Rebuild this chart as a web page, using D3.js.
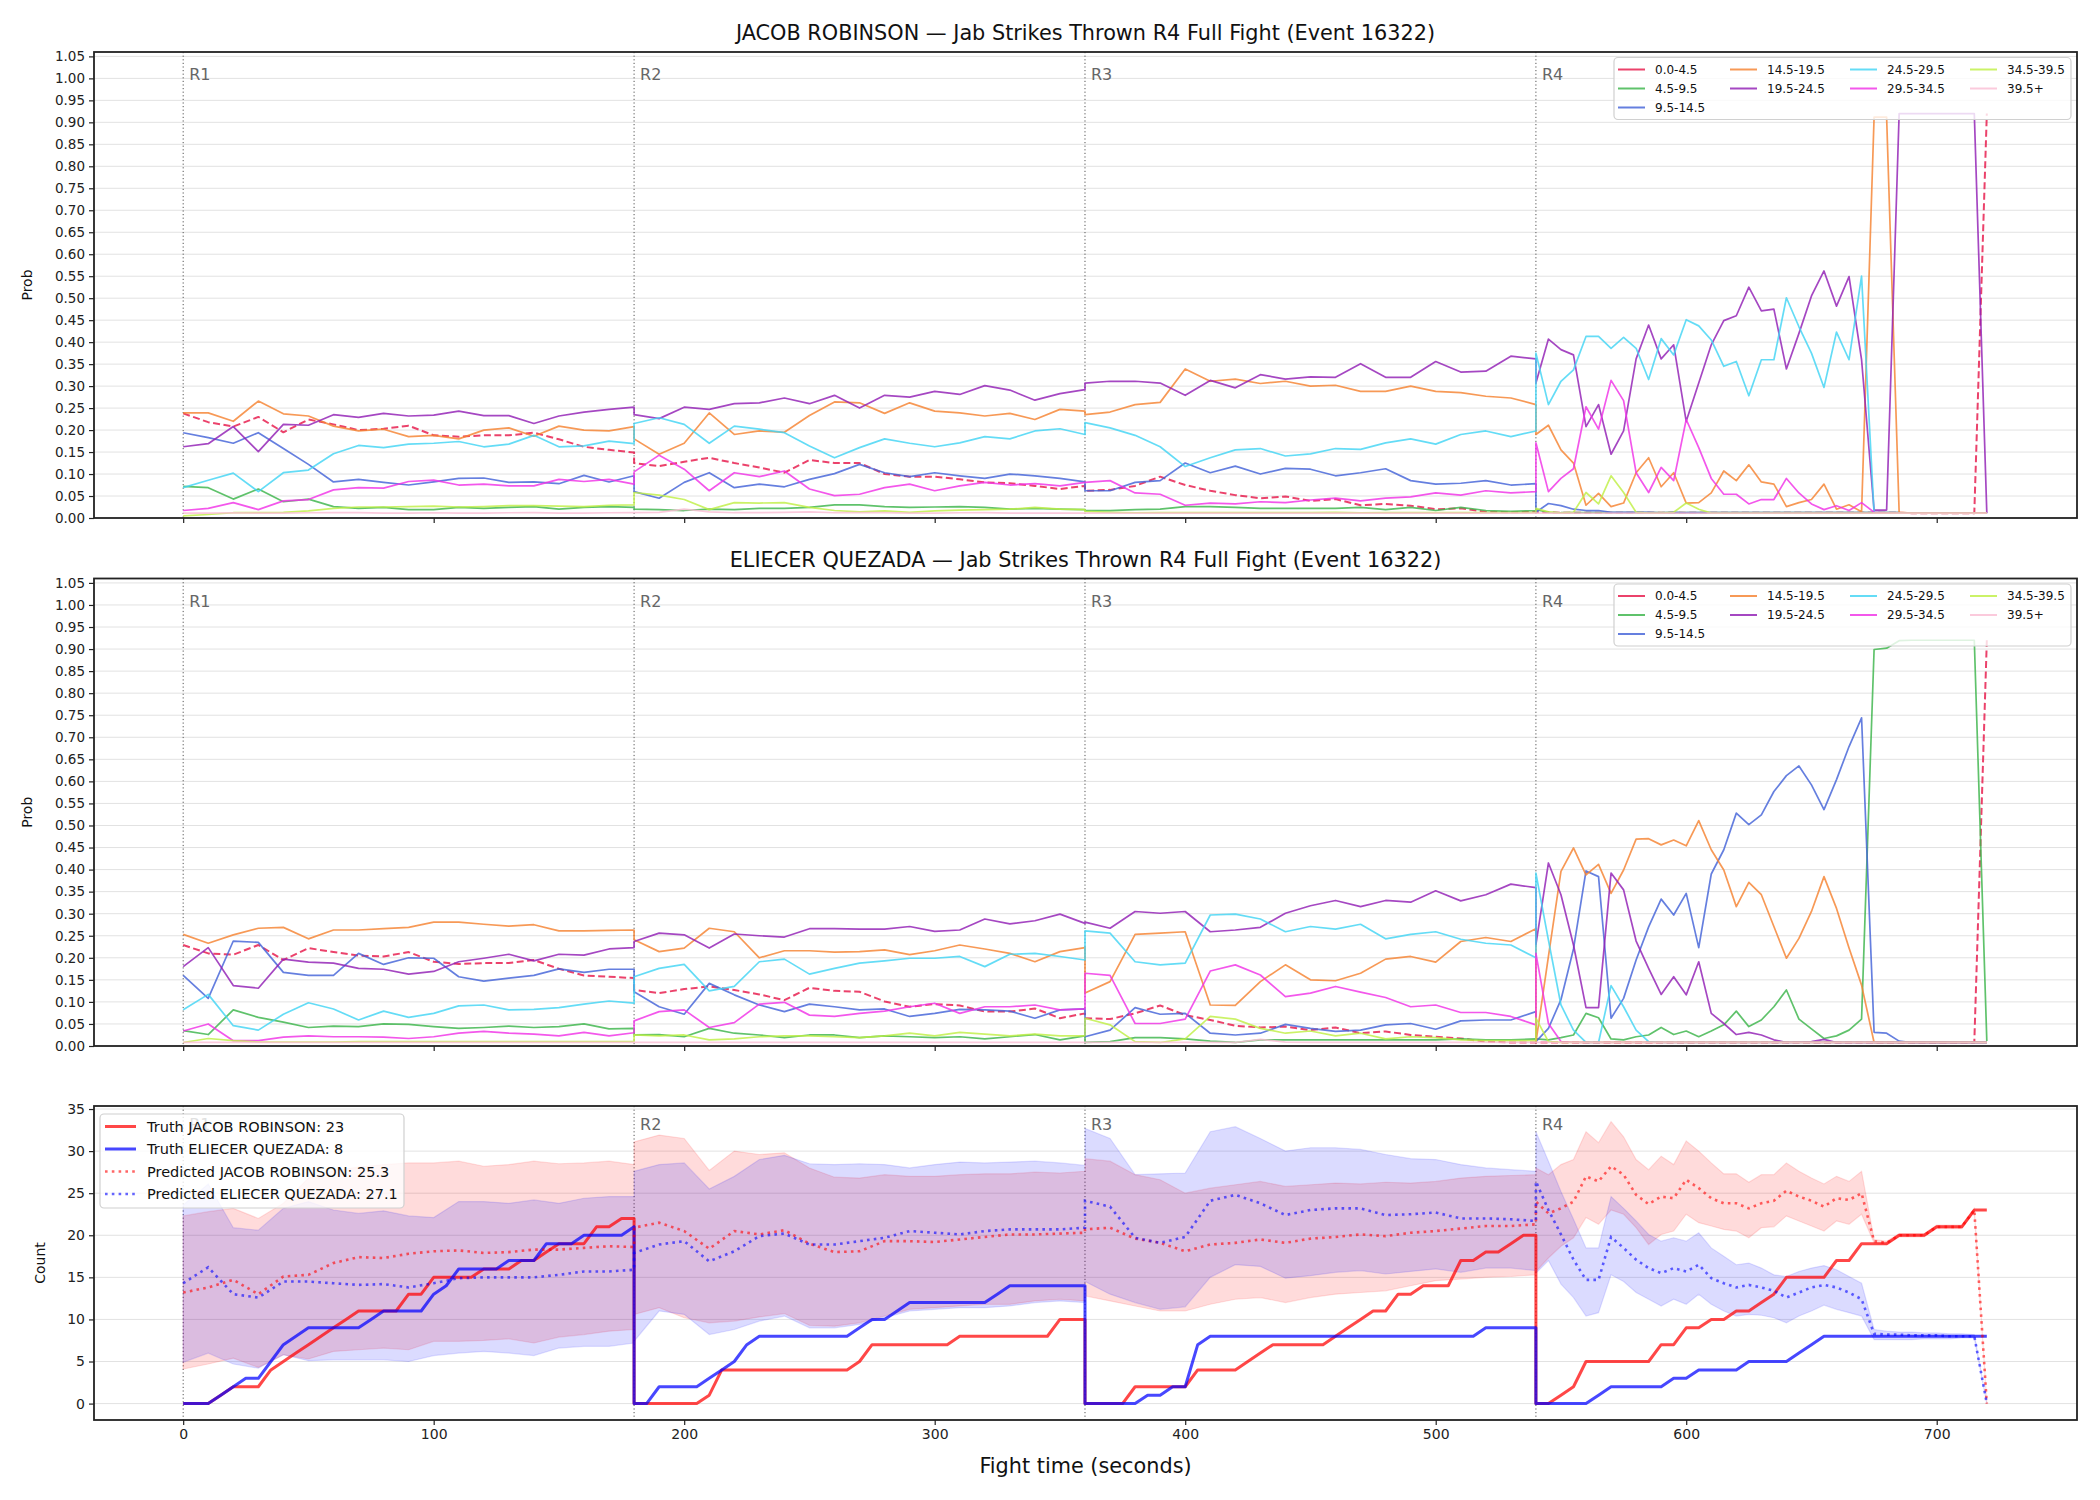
<!DOCTYPE html>
<html lang="en">
<head>
<meta charset="UTF-8">
<title>Jab Strikes Thrown R4 Full Fight (Event 16322)</title>
<script src="https://cdn.jsdelivr.net/npm/d3@7/dist/d3.min.js"></script>
<style>
  body { margin: 0; background: #fff; }
  text { font-family: "DejaVu Sans", sans-serif; }
</style>
</head>
<body>
<div id="chart"></div>
<script>
// --- data -------------------------------------------------------------
const fighterA = "JACOB ROBINSON";
const fighterB = "ELIECER QUEZADA";
const binLabels = ["0.0-4.5", "4.5-9.5", "9.5-14.5", "14.5-19.5", "19.5-24.5",
                   "24.5-29.5", "29.5-34.5", "34.5-39.5", "39.5+"];
const roundStarts = [0, 180, 360, 540];
const roundNames = ["R1", "R2", "R3", "R4"];

// sample times: every 10 s in rounds 1-3, every 5 s in round 4 (round edges repeated)
const probTimes = [...d3.range(0, 181, 10), ...d3.range(180, 361, 10),
                   ...d3.range(360, 541, 10), ...d3.range(540, 721, 5)];
// running counts are sampled every 5 s
const countTimes = [...d3.range(0, 181, 5), ...d3.range(180, 361, 5),
                    ...d3.range(360, 541, 5), ...d3.range(540, 721, 5)];

// JACOB ROBINSON - probability of each bin
const jacob_0_4 = [
  0.238,0.218,0.208,0.23,0.195,0.224,0.213,0.2,0.203,0.21,0.188,0.185,0.188,0.188,0.194,0.179,0.162,0.155,0.149,
  0.125,0.118,0.128,0.137,0.125,0.115,0.103,0.132,0.125,0.125,0.1,0.094,0.094,0.088,0.081,0.079,0.073,0.066,0.073,
  0.062,0.064,0.073,0.094,0.075,0.062,0.052,0.045,0.049,0.039,0.043,0.029,0.032,0.028,0.02,0.022,0.014,0.013,0.014,
  0.013,0.013,0.012,0.012,0.012,0.012,0.012,0.012,0.012,0.012,
  0.012,0.012,0.012,0.012,0.012,0.012,0.012,0.012,0.012,0.012,
  0.012,0.012,0.012,0.012,0.012,0.012,0.012,0.012,0.012,0.012,
  0.011,0.011,0.011,0.011,0.011,0.011,0.92];
const jacob_4_9 = [
  0.072,0.069,0.043,0.066,0.037,0.043,0.026,0.022,0.024,0.019,0.019,0.024,0.022,0.024,0.026,0.02,0.024,0.026,0.024,
  0.02,0.019,0.017,0.02,0.019,0.022,0.022,0.024,0.03,0.03,0.026,0.024,0.025,0.026,0.024,0.02,0.022,0.02,0.019,
  0.017,0.017,0.019,0.02,0.026,0.026,0.024,0.022,0.022,0.022,0.022,0.024,0.019,0.024,0.017,0.024,0.017,0.015,0.017,
  0.019,0.013,0.012,0.012,0.012,0.012,0.012,0.012,0.012,0.012,
  0.012,0.012,0.012,0.012,0.012,0.012,0.012,0.012,0.012,0.012,
  0.012,0.012,0.012,0.012,0.012,0.012,0.012,0.012,0.012,0.012,
  0.011,0.011,0.011,0.011,0.011,0.011,0.011];
const jacob_9_14 = [
  0.194,0.183,0.17,0.194,0.158,0.122,0.082,0.088,0.081,0.075,0.082,0.09,0.091,0.081,0.082,0.078,0.097,0.082,0.096,
  0.06,0.045,0.081,0.103,0.069,0.077,0.071,0.088,0.101,0.122,0.103,0.094,0.103,0.096,0.09,0.1,0.096,0.09,0.082,
  0.062,0.062,0.081,0.085,0.125,0.103,0.118,0.1,0.113,0.111,0.096,0.103,0.112,0.085,0.077,0.079,0.085,0.075,0.078,
  0.013,0.033,0.028,0.02,0.017,0.017,0.013,0.013,0.013,0.013,
  0.012,0.013,0.012,0.012,0.012,0.012,0.012,0.012,0.012,0.012,
  0.012,0.012,0.012,0.012,0.012,0.012,0.012,0.012,0.012,0.012,
  0.011,0.011,0.011,0.011,0.011,0.011,0.011];
const jacob_14_19 = [
  0.239,0.239,0.22,0.266,0.237,0.232,0.209,0.198,0.202,0.185,0.188,0.18,0.2,0.205,0.186,0.209,0.2,0.198,0.208,
  0.18,0.145,0.17,0.239,0.19,0.198,0.195,0.233,0.264,0.262,0.238,0.262,0.243,0.239,0.232,0.238,0.224,0.247,0.243,
  0.235,0.241,0.258,0.263,0.339,0.311,0.316,0.306,0.311,0.3,0.302,0.288,0.288,0.3,0.288,0.285,0.277,0.273,0.258,
  0.19,0.211,0.155,0.125,0.029,0.056,0.026,0.034,0.103,0.137,
  0.071,0.103,0.034,0.035,0.057,0.107,0.085,0.121,0.082,0.077,
  0.026,0.035,0.042,0.077,0.02,0.03,0.014,0.912,0.912,0.013,
  0.011,0.011,0.011,0.011,0.011,0.011,0.011];
const jacob_19_24 = [
  0.162,0.169,0.208,0.151,0.213,0.211,0.235,0.229,0.238,0.232,0.234,0.243,0.233,0.233,0.215,0.232,0.241,0.247,0.252,
  0.235,0.226,0.252,0.247,0.26,0.262,0.273,0.26,0.279,0.25,0.279,0.275,0.288,0.281,0.301,0.291,0.268,0.283,0.292,
  0.307,0.311,0.311,0.307,0.279,0.313,0.296,0.326,0.316,0.321,0.32,0.351,0.32,0.32,0.356,0.332,0.334,0.368,0.362,
  0.307,0.407,0.383,0.371,0.208,0.258,0.145,0.198,0.362,0.439,
  0.362,0.394,0.22,0.307,0.394,0.449,0.46,0.525,0.471,0.475,
  0.339,0.42,0.505,0.562,0.482,0.549,0.36,0.018,0.018,0.92,
  0.92,0.92,0.92,0.92,0.92,0.92,0.011];
const jacob_24_29 = [
  0.069,0.086,0.102,0.06,0.103,0.109,0.146,0.165,0.16,0.168,0.17,0.174,0.162,0.168,0.188,0.162,0.164,0.175,0.169,
  0.215,0.228,0.213,0.17,0.209,0.202,0.194,0.164,0.137,0.16,0.18,0.17,0.162,0.171,0.185,0.18,0.198,0.203,0.19,
  0.217,0.205,0.188,0.162,0.117,0.137,0.155,0.158,0.141,0.146,0.158,0.156,0.171,0.18,0.168,0.19,0.198,0.185,0.198,
  0.375,0.258,0.311,0.337,0.413,0.413,0.386,0.411,0.386,0.315,
  0.408,0.371,0.451,0.437,0.405,0.345,0.356,0.278,0.36,0.36,
  0.501,0.435,0.375,0.297,0.423,0.36,0.55,0.011,0.011,0.011,
  0.011,0.011,0.011,0.011,0.011,0.011,0.011];
const jacob_29_34 = [
  0.017,0.022,0.035,0.019,0.039,0.042,0.064,0.069,0.068,0.083,0.086,0.075,0.077,0.073,0.073,0.088,0.083,0.088,0.077,
  0.105,0.143,0.111,0.062,0.103,0.094,0.107,0.066,0.051,0.054,0.069,0.077,0.062,0.073,0.081,0.075,0.078,0.073,0.081,
  0.081,0.085,0.057,0.054,0.029,0.034,0.032,0.037,0.035,0.041,0.045,0.039,0.045,0.048,0.057,0.052,0.062,0.057,0.06,
  0.171,0.06,0.09,0.112,0.253,0.202,0.313,0.267,0.103,0.058,
  0.115,0.085,0.224,0.16,0.09,0.054,0.054,0.032,0.042,0.042,
  0.09,0.057,0.032,0.019,0.028,0.017,0.035,0.013,0.011,0.011,
  0.011,0.011,0.011,0.011,0.011,0.011,0.011];
const jacob_34_39 = [
  0.005,0.008,0.012,0.012,0.013,0.016,0.022,0.025,0.025,0.026,0.027,0.025,0.026,0.028,0.028,0.027,0.026,0.029,0.03,
  0.058,0.052,0.042,0.019,0.035,0.034,0.035,0.024,0.017,0.014,0.016,0.013,0.016,0.018,0.019,0.02,0.024,0.02,0.019,
  0.015,0.013,0.012,0.012,0.012,0.012,0.012,0.012,0.012,0.012,0.013,0.012,0.012,0.012,0.012,0.012,0.012,0.012,0.012,
  0.022,0.014,0.011,0.013,0.058,0.032,0.096,0.058,0.013,0.011,
  0.011,0.013,0.034,0.02,0.011,0.011,0.011,0.011,0.011,0.011,
  0.011,0.011,0.011,0.011,0.011,0.011,0.011,0.011,0.011,0.011,
  0.011,0.011,0.011,0.011,0.011,0.011,0.011];
const jacob_39_plus = [
  0.011,0.011,0.012,0.011,0.011,0.012,0.012,0.012,0.011,0.011,0.012,0.011,0.011,0.012,0.012,0.011,0.011,0.012,0.012,
  0.012,0.013,0.02,0.014,0.012,0.012,0.013,0.014,0.012,0.012,0.012,0.011,0.011,0.012,0.012,0.011,0.011,0.011,0.011,
  0.011,0.011,0.011,0.011,0.011,0.011,0.011,0.011,0.011,0.011,0.011,0.011,0.011,0.011,0.011,0.011,0.011,0.011,0.011,
  0.011,0.011,0.011,0.011,0.011,0.011,0.011,0.011,0.011,0.011,
  0.011,0.011,0.011,0.011,0.011,0.011,0.011,0.011,0.011,0.011,
  0.011,0.011,0.011,0.011,0.011,0.011,0.011,0.011,0.011,0.011,
  0.011,0.011,0.011,0.011,0.011,0.011,0.011];

// ELIECER QUEZADA - probability of each bin
const eliecer_0_4 = [
  0.229,0.21,0.207,0.229,0.195,0.222,0.213,0.205,0.203,0.213,0.191,0.186,0.188,0.188,0.195,0.175,0.16,0.157,0.154,
  0.127,0.12,0.129,0.135,0.127,0.117,0.104,0.132,0.125,0.123,0.101,0.089,0.095,0.092,0.078,0.078,0.085,0.063,0.074,
  0.063,0.061,0.074,0.092,0.07,0.059,0.046,0.042,0.044,0.036,0.042,0.029,0.033,0.025,0.021,0.017,0.01,0.008,0.008,
  0.008,0.008,0.008,0.008,0.008,0.008,0.008,0.008,0.008,0.008,
  0.008,0.008,0.008,0.008,0.008,0.008,0.008,0.008,0.008,0.008,
  0.008,0.008,0.008,0.008,0.008,0.008,0.008,0.008,0.008,0.008,
  0.008,0.008,0.008,0.008,0.008,0.008,0.92];
const eliecer_4_9 = [
  0.035,0.026,0.082,0.065,0.054,0.042,0.045,0.044,0.05,0.049,0.044,0.04,0.042,0.045,0.042,0.044,0.05,0.039,0.04,
  0.025,0.026,0.021,0.04,0.029,0.025,0.019,0.025,0.025,0.019,0.023,0.021,0.019,0.021,0.016,0.021,0.026,0.014,0.023,
  0.008,0.01,0.019,0.019,0.016,0.011,0.008,0.014,0.014,0.014,0.014,0.014,0.014,0.014,0.014,0.016,0.014,0.014,0.016,
  0.016,0.014,0.019,0.025,0.074,0.064,0.016,0.014,0.021,0.025,
  0.042,0.026,0.034,0.021,0.034,0.048,0.079,0.044,0.059,0.089,
  0.127,0.061,0.039,0.017,0.023,0.036,0.061,0.899,0.902,0.919,
  0.92,0.92,0.92,0.92,0.92,0.92,0.011];
const eliecer_9_14 = [
  0.16,0.108,0.238,0.235,0.167,0.16,0.16,0.21,0.185,0.2,0.199,0.157,0.147,0.154,0.16,0.175,0.167,0.174,0.174,
  0.123,0.089,0.072,0.142,0.116,0.093,0.078,0.095,0.089,0.082,0.084,0.067,0.074,0.083,0.082,0.079,0.063,0.082,0.084,
  0.021,0.036,0.087,0.072,0.074,0.029,0.025,0.029,0.049,0.04,0.033,0.036,0.048,0.051,0.038,0.057,0.059,0.059,0.078,
  0.01,0.04,0.105,0.22,0.397,0.384,0.063,0.108,0.195,0.27,
  0.333,0.297,0.346,0.223,0.39,0.445,0.528,0.502,0.524,0.577,
  0.613,0.635,0.592,0.536,0.604,0.679,0.744,0.031,0.029,0.011,
  0.008,0.008,0.008,0.008,0.008,0.008,0.008];
const eliecer_14_19 = [
  0.253,0.233,0.252,0.267,0.269,0.243,0.263,0.263,0.266,0.269,0.281,0.281,0.276,0.272,0.275,0.261,0.261,0.262,0.263,
  0.241,0.214,0.222,0.267,0.259,0.2,0.216,0.216,0.213,0.214,0.218,0.207,0.216,0.229,0.22,0.21,0.191,0.214,0.223,
  0.12,0.146,0.253,0.256,0.259,0.093,0.092,0.146,0.184,0.15,0.148,0.165,0.197,0.203,0.19,0.237,0.246,0.237,0.266,
  0.008,0.203,0.396,0.449,0.388,0.412,0.346,0.399,0.469,0.47,
  0.456,0.467,0.454,0.511,0.445,0.399,0.316,0.371,0.343,0.271,
  0.199,0.244,0.305,0.384,0.312,0.222,0.138,0.008,0.008,0.008,
  0.008,0.008,0.008,0.008,0.008,0.008,0.008];
const eliecer_19_24 = [
  0.18,0.223,0.137,0.131,0.197,0.19,0.188,0.176,0.174,0.163,0.169,0.191,0.199,0.208,0.193,0.208,0.206,0.22,0.223,
  0.237,0.256,0.252,0.222,0.254,0.25,0.247,0.266,0.266,0.265,0.265,0.271,0.26,0.263,0.288,0.277,0.284,0.299,0.278,
  0.281,0.267,0.305,0.301,0.305,0.259,0.263,0.269,0.301,0.318,0.33,0.316,0.33,0.326,0.352,0.329,0.343,0.367,0.359,
  0.23,0.415,0.343,0.229,0.087,0.087,0.392,0.354,0.238,0.176,
  0.117,0.157,0.116,0.191,0.074,0.051,0.026,0.031,0.025,0.014,
  0.008,0.009,0.01,0.015,0.008,0.008,0.008,0.008,0.008,0.008,
  0.008,0.008,0.008,0.008,0.008,0.008,0.008];
const eliecer_24_29 = [
  0.082,0.117,0.046,0.036,0.072,0.098,0.084,0.059,0.079,0.065,0.074,0.091,0.093,0.082,0.083,0.087,0.095,0.102,0.097,
  0.157,0.176,0.185,0.125,0.135,0.191,0.197,0.163,0.176,0.188,0.193,0.199,0.199,0.203,0.18,0.208,0.21,0.203,0.195,
  0.261,0.256,0.191,0.184,0.188,0.297,0.299,0.288,0.259,0.271,0.265,0.276,0.243,0.253,0.259,0.242,0.233,0.229,0.2,
  0.392,0.24,0.093,0.036,0.008,0.008,0.137,0.089,0.036,0.01,
  0.008,0.008,0.008,0.008,0.008,0.008,0.008,0.008,0.008,0.008,
  0.008,0.008,0.008,0.008,0.008,0.008,0.008,0.008,0.008,0.008,
  0.008,0.008,0.008,0.008,0.008,0.008,0.008];
const eliecer_29_34 = [
  0.034,0.05,0.012,0.012,0.02,0.023,0.021,0.021,0.02,0.017,0.021,0.029,0.033,0.029,0.027,0.023,0.031,0.023,0.03,
  0.057,0.078,0.082,0.042,0.053,0.095,0.099,0.07,0.067,0.074,0.079,0.089,0.097,0.074,0.089,0.089,0.093,0.082,0.084,
  0.165,0.16,0.051,0.051,0.061,0.17,0.184,0.161,0.112,0.12,0.135,0.122,0.11,0.089,0.093,0.076,0.076,0.067,0.048,
  0.21,0.051,0.01,0.008,0.008,0.008,0.008,0.008,0.008,0.008,
  0.008,0.008,0.008,0.008,0.008,0.008,0.008,0.008,0.008,0.008,
  0.008,0.008,0.008,0.008,0.008,0.008,0.008,0.008,0.008,0.008,
  0.008,0.008,0.008,0.008,0.008,0.008,0.008];
const eliecer_34_39 = [
  0.008,0.017,0.012,0.009,0.009,0.009,0.009,0.01,0.01,0.01,0.01,0.01,0.01,0.01,0.01,0.01,0.01,0.01,0.01,
  0.025,0.023,0.025,0.014,0.016,0.021,0.023,0.023,0.021,0.019,0.023,0.029,0.023,0.031,0.027,0.023,0.027,0.023,0.023,
  0.063,0.048,0.01,0.008,0.016,0.067,0.061,0.04,0.029,0.034,0.023,0.029,0.016,0.021,0.019,0.014,0.012,0.012,0.012,
  0.063,0.01,0.008,0.008,0.008,0.008,0.008,0.008,0.008,0.008,
  0.008,0.008,0.008,0.008,0.008,0.008,0.008,0.008,0.008,0.008,
  0.008,0.008,0.008,0.008,0.008,0.008,0.008,0.008,0.008,0.008,
  0.008,0.008,0.008,0.008,0.008,0.008,0.008];
const eliecer_39_plus = [
  0.008,0.008,0.008,0.008,0.008,0.008,0.008,0.008,0.008,0.008,0.008,0.008,0.008,0.008,0.008,0.008,0.008,0.008,0.008,
  0.008,0.008,0.008,0.008,0.008,0.008,0.008,0.008,0.008,0.008,0.008,0.008,0.008,0.008,0.008,0.008,0.008,0.008,0.008,
  0.008,0.008,0.008,0.008,0.008,0.008,0.008,0.015,0.009,0.008,0.008,0.008,0.008,0.008,0.008,0.008,0.008,0.008,0.008,
  0.008,0.008,0.008,0.008,0.008,0.008,0.008,0.008,0.008,0.008,
  0.008,0.008,0.008,0.008,0.008,0.008,0.008,0.008,0.008,0.008,
  0.008,0.008,0.008,0.008,0.008,0.008,0.008,0.008,0.008,0.008,
  0.008,0.008,0.008,0.008,0.008,0.008,0.008];

// running totals (truth) on countTimes
const truthJacob = [
  0,0,0,1,2,2,2,4,5,6,7,8,9,10,11,11,11,11,13,13,15,15,15,15,16,16,16,17,17,18,19,19,19,21,21,22,22,
  0,0,0,0,0,0,1,4,4,4,4,4,4,4,4,4,4,4,5,7,7,7,7,7,7,7,8,8,8,8,8,8,8,8,10,10,10,
  0,0,0,0,2,2,2,2,2,4,4,4,4,5,6,7,7,7,7,7,8,9,10,11,11,13,13,14,14,14,17,17,18,18,19,20,20,
  0,0,1,2,5,5,5,5,5,5,7,7,9,9,10,10,11,11,12,13,15,15,15,15,17,17,19,19,19,20,20,20,21,21,21,23,23];
const truthEliecer = [
  0,0,0,1,2,3,3,5,7,8,9,9,9,9,9,10,11,11,11,11,13,14,16,16,16,16,17,17,17,19,19,19,20,20,20,20,21,
  0,0,2,2,2,2,3,4,5,7,8,8,8,8,8,8,8,8,9,10,10,11,12,12,12,12,12,12,12,13,14,14,14,14,14,14,14,
  0,0,0,0,0,1,1,2,2,7,8,8,8,8,8,8,8,8,8,8,8,8,8,8,8,8,8,8,8,8,8,8,9,9,9,9,9,
  0,0,0,0,0,1,2,2,2,2,2,3,3,4,4,4,4,5,5,5,5,6,7,8,8,8,8,8,8,8,8,8,8,8,8,8,8];

// predicted totals and their bands on probTimes
const predJacob = [
  13.2,13.8,14.7,13.0,15.1,15.3,16.7,17.4,17.3,17.8,18.1,18.2,17.9,18.0,18.3,18.3,18.5,18.7,18.6,
  20.9,21.5,20.5,18.4,20.5,20.1,20.6,19.0,18.0,18.1,19.3,19.3,19.2,19.5,19.8,20.1,20.1,20.2,20.3,
  20.7,20.9,19.6,19.1,18.1,18.9,19.1,19.5,19.1,19.6,19.8,20.1,19.9,20.3,20.5,20.8,21.1,21.1,21.3,
  24.0,22.6,23.2,24.0,27.0,26.4,28.2,27.2,24.8,23.7,
  24.6,24.4,26.6,25.6,24.4,23.8,23.8,23.2,23.8,24.1,
  25.3,24.6,24.1,23.4,24.4,24.2,25.0,19.3,19.1,20.0,
  20.0,20.0,21.0,21.0,21.0,23.0,0];
const jacobUpper = [
  22.3,22.8,23.2,22.0,23.8,26.8,27.7,28.1,28.4,28.6,28.6,28.8,28.2,28.4,28.8,28.5,28.6,28.8,28.4,
  31.1,31.9,31.5,27.7,30.0,29.6,29.8,28.0,26.9,26.8,27.2,27.0,27.0,27.2,27.3,27.3,27.5,27.4,27.6,
  29.1,28.8,27.2,26.6,25.0,25.6,26.0,26.4,25.8,26.0,26.2,26.1,26.3,26.2,26.4,26.8,27.0,27.1,27.2,
  28.0,27.2,28.4,29.0,32.3,31.0,33.5,31.7,29.0,27.8,
  29.4,28.4,31.2,30.0,28.6,27.3,27.3,26.3,27.2,27.2,
  28.6,27.6,26.8,26.1,27.0,26.4,27.6,19.5,19.3,20.2,
  20.2,20.2,21.2,21.2,21.2,23.2,0];
const jacobLower = [
  4.1,4.7,5.4,4.3,5.8,5.3,6.2,6.4,6.6,6.4,7.4,7.4,7.5,7.7,7.2,7.9,8.2,8.6,8.8,
  10.6,11.4,10.2,9.6,9.8,10.3,10.7,9.3,9.2,9.6,10.4,11.2,11.4,11.6,11.8,11.8,12.2,12.4,12.2,
  12.8,12.2,11.6,11.0,11.0,11.8,12.4,12.6,12.0,12.6,13.0,13.2,13.4,14.0,14.6,14.8,15.0,15.1,15.3,
  15.7,17.3,18.7,19.7,22.1,21.3,23.0,22.5,20.9,18.9,
  20.1,20.5,22.5,21.5,21.1,20.7,20.5,19.7,20.9,21.0,
  22.3,21.7,21.1,20.5,21.7,21.3,22.5,19.1,18.9,19.8,
  19.8,19.8,20.8,20.8,20.8,22.8,0];
const predEliecer = [
  14.3,16.2,13.0,12.6,14.5,14.5,14.3,14.1,14.2,13.8,14.3,14.9,15.0,15.0,15.0,15.3,15.7,15.7,15.9,
  17.9,18.9,19.3,16.9,18.1,19.9,20.2,18.9,18.9,19.3,19.7,20.5,20.3,20.1,20.5,20.7,20.7,20.7,20.9,
  24.1,23.4,19.7,19.1,19.8,24.1,24.8,23.8,22.4,23.0,23.2,23.2,22.4,22.5,22.7,22.0,22.0,21.9,21.7,
  26.4,23.0,20.1,17.1,14.7,14.7,19.8,18.5,17.1,16.1,
  15.5,16.1,15.7,16.5,14.9,14.3,13.8,14.1,13.8,13.4,
  12.6,13.2,13.8,14.1,13.8,13.2,12.4,8.3,8.2,8.2,
  8.1,8.1,8.1,8.0,8.0,8.0,0];
const eliecerUpper = [
  23.6,26.1,20.9,20.6,23.2,24.0,23.0,22.6,22.9,22.3,22.1,24.0,24.0,23.8,24.2,23.8,24.4,24.6,24.6,
  27.6,28.4,28.6,25.5,27.0,29.0,29.5,28.5,28.4,28.5,28.4,28.0,28.4,28.7,28.6,28.7,28.8,28.6,28.3,
  32.7,31.5,27.2,27.3,27.4,32.3,32.9,31.5,30.0,30.4,30.4,30.2,29.6,29.1,29.0,28.4,28.0,27.8,27.6,
  32.3,28.8,25.2,21.9,18.5,18.5,24.6,23.2,21.7,20.1,
  19.3,19.7,19.3,20.3,18.5,17.5,16.5,16.7,16.1,15.3,
  15.1,15.7,16.1,16.4,15.9,15.1,14.3,8.8,8.6,8.5,
  8.5,8.4,8.4,8.3,8.3,8.2,0];
const eliecerLower = [
  4.9,6.0,4.7,4.2,5.8,5.1,5.2,5.2,5.2,5.0,5.7,6.0,6.2,6.0,5.7,6.6,6.8,6.8,7.2,
  7.4,11.0,10.6,8.2,8.8,9.8,10.4,9.0,9.0,9.4,10.2,11.0,11.2,11.4,11.4,11.6,12.0,12.2,12.0,
  14.5,13.0,12.0,11.2,11.5,15.0,16.5,16.3,14.9,15.2,15.6,15.8,15.4,15.7,16.0,15.6,16.1,16.1,15.8,
  15.5,17.0,14.2,12.6,10.4,10.8,15.3,14.5,13.2,12.4,
  11.6,12.4,11.8,13.0,11.8,11.0,10.4,10.6,10.5,10.2,
  9.6,10.4,11.0,11.7,11.2,10.8,10.4,7.6,7.6,7.6,
  7.6,7.7,7.7,7.7,7.8,7.8,0];

const jacobProbs = [jacob_0_4, jacob_4_9, jacob_9_14, jacob_14_19, jacob_19_24,
                    jacob_24_29, jacob_29_34, jacob_34_39, jacob_39_plus];
const eliecerProbs = [eliecer_0_4, eliecer_4_9, eliecer_9_14, eliecer_14_19, eliecer_19_24,
                      eliecer_24_29, eliecer_29_34, eliecer_34_39, eliecer_39_plus];

// sanity check on lengths
[...jacobProbs, ...eliecerProbs, predJacob, jacobUpper, jacobLower, predEliecer, eliecerUpper, eliecerLower]
  .forEach((s, i) => { if (s.length !== probTimes.length) throw new Error("prob series " + i + " has " + s.length); });
[truthJacob, truthEliecer].forEach((s, i) => {
  if (s.length !== countTimes.length) throw new Error("truth series " + i + " has " + s.length);
});

// --- layout -------------------------------------------------------------
const binColors = ["#e6194b", "#3cb44b", "#4363d8", "#f58231", "#911eb4",
                   "#42d4f4", "#f032e6", "#bfef45", "#fabed4"];
const left = 94, right = 2077;
const panelTop = [52, 578.5, 1106];
const panelBottom = [518, 1046, 1420];

const svg = d3.select("#chart").append("svg")
  .attr("width", 2100).attr("height", 1500)
  .style("background", "#fff");

const x = d3.scaleLinear().domain([-35.6, 756]).range([left, right]);
const xTicks = d3.range(0, 701, 100);

function styleAxis(g) {
  g.select(".domain").remove();
  g.selectAll(".tick line").attr("stroke", "#222").attr("stroke-width", 1.2);
  g.selectAll(".tick text").attr("fill", "#222").style("font-family", '"DejaVu Sans", sans-serif');
}

function frame(top, bottom) {
  svg.append("rect")
     .attr("x", left).attr("y", top)
     .attr("width", right - left).attr("height", bottom - top)
     .attr("fill", "none").attr("stroke", "#222").attr("stroke-width", 1.8);
}

function roundMarks(g, top, bottom, labelBaseline) {
  g.append("g").selectAll("line").data(roundStarts).join("line")
   .attr("x1", d => x(d)).attr("x2", d => x(d))
   .attr("y1", top).attr("y2", bottom)
   .attr("stroke", "#555").attr("stroke-width", 1)
   .attr("stroke-dasharray", "1.2,2.4");
  g.append("g").selectAll("text").data(roundStarts).join("text")
   .attr("x", d => x(d) + 6).attr("y", top + labelBaseline)
   .attr("font-size", 16).attr("fill", "#666")
   .text((d, i) => roundNames[i]);
}

// --- probability panels ---------------------------------------------------
function drawProbPanel(k, fighter, probs) {
  const top = panelTop[k], bottom = panelBottom[k];
  const y = d3.scaleLinear().domain([0, 1.06]).range([bottom, top]);
  const yTicks = d3.range(0, 22).map(i => i * 0.05);
  const g = svg.append("g");

  svg.append("clipPath").attr("id", "clip" + k)
     .append("rect").attr("x", left).attr("y", top)
     .attr("width", right - left).attr("height", bottom - top);

  g.append("g").selectAll("line").data(yTicks).join("line")
   .attr("x1", left).attr("x2", right)
   .attr("y1", d => y(d)).attr("y2", d => y(d))
   .attr("stroke", "#e2e2e2").attr("stroke-width", 1);

  roundMarks(g, top, bottom, 28);

  const line = d3.line().x((d, i) => x(probTimes[i])).y(d => y(d));
  g.append("g").attr("clip-path", `url(#clip${k})`)
   .selectAll("path").data(probs).join("path")
   .attr("d", line)
   .attr("fill", "none")
   .attr("stroke", (d, i) => binColors[i])
   .attr("stroke-width", (d, i) => i === 0 ? 2 : 1.7)
   .attr("stroke-dasharray", (d, i) => i === 0 ? "7,3.5" : null)
   .attr("stroke-opacity", 0.82)
   .attr("stroke-linejoin", "round");

  g.append("g").attr("transform", `translate(${left},0)`)
   .call(d3.axisLeft(y).tickValues(yTicks).tickFormat(d3.format(".2f")).tickSize(5).tickPadding(4))
   .call(styleAxis)
   .call(a => a.selectAll(".tick text").attr("font-size", 13.5));

  g.append("g").attr("transform", `translate(0,${bottom})`)
   .call(d3.axisBottom(x).tickValues(xTicks).tickFormat("").tickSize(5))
   .call(styleAxis);

  frame(top, bottom);

  svg.append("text")
     .attr("x", (left + right) / 2).attr("y", top - 12)
     .attr("text-anchor", "middle").attr("font-size", 20.8).attr("fill", "#111")
     .text(`${fighter} \u2014 Jab Strikes Thrown R4 Full Fight (Event 16322)`);

  svg.append("text")
     .attr("transform", `translate(27,${(top + bottom) / 2}) rotate(-90)`)
     .attr("text-anchor", "middle").attr("dominant-baseline", "central")
     .attr("font-size", 14).attr("fill", "#111")
     .text("Prob");

  // legend: 4 columns, filled column by column
  const cols = [[0, 1, 2], [3, 4], [5, 6], [7, 8]];
  const colX = [1618, 1730, 1850, 1970];
  const rowY = [17.5, 36.5, 55.5];
  const lg = svg.append("g");
  lg.append("rect")
    .attr("x", 1614).attr("y", top + 5.5).attr("width", 457).attr("height", 62)
    .attr("rx", 4).attr("fill", "#fff").attr("fill-opacity", 0.8)
    .attr("stroke", "#d0d0d0").attr("stroke-width", 1.2);
  cols.forEach((col, c) => col.forEach((bi, r) => {
    const yy = top + rowY[r];
    lg.append("line")
      .attr("x1", colX[c]).attr("x2", colX[c] + 27)
      .attr("y1", yy).attr("y2", yy)
      .attr("stroke", binColors[bi]).attr("stroke-opacity", 0.82).attr("stroke-width", 2);
    lg.append("text")
      .attr("x", colX[c] + 37).attr("y", yy)
      .attr("dominant-baseline", "central")
      .attr("font-size", 12).attr("fill", "#111")
      .text(binLabels[bi]);
  }));
}

drawProbPanel(0, fighterA, jacobProbs);
drawProbPanel(1, fighterB, eliecerProbs);

// --- running count panel ---------------------------------------------------
(function drawCountPanel() {
  const top = panelTop[2], bottom = panelBottom[2];
  const y = d3.scaleLinear().domain([-1.95, 35.36]).range([bottom, top]);
  const yTicks = d3.range(0, 36, 5);
  const g = svg.append("g");

  svg.append("clipPath").attr("id", "clip2")
     .append("rect").attr("x", left).attr("y", top)
     .attr("width", right - left).attr("height", bottom - top);

  g.append("g").selectAll("line").data(yTicks).join("line")
   .attr("x1", left).attr("x2", right)
   .attr("y1", d => y(d)).attr("y2", d => y(d))
   .attr("stroke", "#e2e2e2").attr("stroke-width", 1);

  roundMarks(g, top, bottom, 24);

  const plot = g.append("g").attr("clip-path", "url(#clip2)");

  const bands = [
    { upper: jacobUpper, lower: jacobLower, color: "#ff0000" },
    { upper: eliecerUpper, lower: eliecerLower, color: "#0000ff" }
  ];
  bands.forEach(b => {
    const area = d3.area()
      .x((d, i) => x(probTimes[i]))
      .y0((d, i) => y(b.lower[i]))
      .y1(d => y(d));
    plot.append("path")
        .attr("d", area(b.upper))
        .attr("fill", b.color).attr("fill-opacity", 0.14)
        .attr("stroke", b.color).attr("stroke-opacity", 0.12).attr("stroke-width", 1.2);
  });

  const truthLine = d3.line().x((d, i) => x(countTimes[i])).y(d => y(d));
  const predLine = d3.line().x((d, i) => x(probTimes[i])).y(d => y(d));

  plot.append("path").attr("d", truthLine(truthJacob))
      .attr("fill", "none").attr("stroke", "#ff0000").attr("stroke-opacity", 0.72)
      .attr("stroke-width", 3).attr("stroke-linejoin", "round");
  plot.append("path").attr("d", truthLine(truthEliecer))
      .attr("fill", "none").attr("stroke", "#0000ff").attr("stroke-opacity", 0.72)
      .attr("stroke-width", 3).attr("stroke-linejoin", "round");
  plot.append("path").attr("d", predLine(predJacob))
      .attr("fill", "none").attr("stroke", "#ff0000").attr("stroke-opacity", 0.6)
      .attr("stroke-width", 2.6).attr("stroke-dasharray", "2.6,4.2");
  plot.append("path").attr("d", predLine(predEliecer))
      .attr("fill", "none").attr("stroke", "#0000ff").attr("stroke-opacity", 0.6)
      .attr("stroke-width", 2.6).attr("stroke-dasharray", "2.6,4.2");

  g.append("g").attr("transform", `translate(${left},0)`)
   .call(d3.axisLeft(y).tickValues(yTicks).tickSize(5).tickPadding(4))
   .call(styleAxis)
   .call(a => a.selectAll(".tick text").attr("font-size", 14));

  g.append("g").attr("transform", `translate(0,${bottom})`)
   .call(d3.axisBottom(x).tickValues(xTicks).tickSize(5).tickPadding(4))
   .call(styleAxis)
   .call(a => a.selectAll(".tick text").attr("font-size", 14));

  frame(top, bottom);

  svg.append("text")
     .attr("transform", `translate(40,${(top + bottom) / 2}) rotate(-90)`)
     .attr("text-anchor", "middle").attr("dominant-baseline", "central")
     .attr("font-size", 14).attr("fill", "#111")
     .text("Count");

  svg.append("text")
     .attr("x", (left + right) / 2).attr("y", 1473)
     .attr("text-anchor", "middle").attr("font-size", 20.8).attr("fill", "#111")
     .text("Fight time (seconds)");

  // legend
  const entries = [
    { label: `Truth ${fighterA}: 23`, color: "#ff0000", dash: null, op: 0.72, w: 3 },
    { label: `Truth ${fighterB}: 8`, color: "#0000ff", dash: null, op: 0.72, w: 3 },
    { label: `Predicted ${fighterA}: 25.3`, color: "#ff0000", dash: "2.6,4.2", op: 0.6, w: 2.6 },
    { label: `Predicted ${fighterB}: 27.1`, color: "#0000ff", dash: "2.6,4.2", op: 0.6, w: 2.6 }
  ];
  const lg = svg.append("g");
  lg.append("rect")
    .attr("x", 100).attr("y", 1114).attr("width", 304).attr("height", 94)
    .attr("rx", 4).attr("fill", "#fff").attr("fill-opacity", 0.8)
    .attr("stroke", "#d0d0d0").attr("stroke-width", 1.2);
  entries.forEach((e, i) => {
    const yy = 1126.5 + i * 22.5;
    lg.append("line")
      .attr("x1", 105).attr("x2", 136).attr("y1", yy).attr("y2", yy)
      .attr("stroke", e.color).attr("stroke-opacity", e.op)
      .attr("stroke-width", e.w).attr("stroke-dasharray", e.dash);
    lg.append("text")
      .attr("x", 147).attr("y", yy).attr("dominant-baseline", "central")
      .attr("font-size", 14.5).attr("fill", "#111")
      .text(e.label);
  });
})();
</script>
</body>
</html>
